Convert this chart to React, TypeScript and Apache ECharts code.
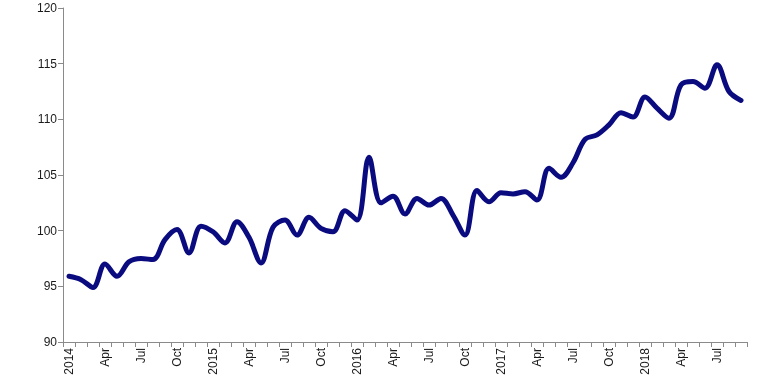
import React, { useEffect, useRef } from "react";
import * as echarts from "echarts";

const months: string[] = ["Jan", "Feb", "Mar", "Apr", "May", "Jun", "Jul", "Aug", "Sep", "Oct", "Nov", "Dec"];
const years: number[] = [2014, 2015, 2016, 2017, 2018];
const lastYearMonths = 9;

const categories: string[] = [];
years.forEach((y, yi) => {
  const n = yi === years.length - 1 ? lastYearMonths : 12;
  for (let m = 0; m < n; m++) categories.push(`${y}-${m}`);
});

const values: number[] = [
  95.9, 95.6, 94.9, 97.0, 95.9, 97.2, 97.5, 97.4, 99.2, 100.1, 98.0, 100.4,
  99.9, 98.9, 100.8, 99.4, 97.1, 100.3, 100.95, 99.6, 101.2, 100.2, 99.9, 101.8,
  100.95, 106.6, 102.5, 103.1, 101.5, 102.9, 102.3, 102.9, 101.4, 99.6, 103.6, 102.6,
  103.4, 103.3, 103.5, 102.75, 105.6, 104.8, 106.1, 108.2, 108.6, 109.5, 110.6, 110.2,
  112.0, 111.0, 110.1, 113.1, 113.4, 112.8, 114.9, 112.5, 111.7,
];

const yMin = 90;
const yMax = 120;
const yStep = 5;

export default function App() {
  const ref = useRef<HTMLDivElement>(null);
  useEffect(() => {
    if (!ref.current) return;
    const chart = echarts.init(ref.current, undefined, { renderer: "svg" });
    chart.setOption({
      animation: false,
      grid: { left: 63, right: 23, top: 8, bottom: 50, containLabel: false },
      xAxis: {
        type: "category",
        data: categories,
        boundaryGap: true,
        axisLine: { lineStyle: { color: "#8a8a8a", width: 1 } },
        axisTick: { show: true, interval: 0, length: 5, lineStyle: { color: "#8a8a8a" } },
        axisLabel: {
          interval: 2,
          rotate: 90,
          fontFamily: "Liberation Sans, Arial, sans-serif",
          fontSize: 12,
          color: "#1a1a1a",
          margin: 6,
          formatter: (v: string) => {
            const [y, m] = v.split("-");
            const mi = Number(m);
            return mi === 0 ? y : months[mi];
          },
        },
        splitLine: { show: false },
      },
      yAxis: {
        type: "value",
        min: yMin,
        max: yMax,
        interval: yStep,
        axisLine: { show: true, lineStyle: { color: "#8a8a8a", width: 1 } },
        axisTick: { show: true, length: 5, lineStyle: { color: "#8a8a8a" } },
        axisLabel: {
          fontFamily: "Liberation Sans, Arial, sans-serif",
          fontSize: 12,
          color: "#1a1a1a",
          margin: 6,
        },
        splitLine: { show: false },
      },
      series: [
        {
          type: "line",
          data: values,
          smooth: 0.35,
          showSymbol: false,
          lineStyle: { color: "#0b0b80", width: 5, cap: "round", join: "round" },
        },
      ],
    });
    return () => chart.dispose();
  }, []);
  return (
    <div
      ref={ref}
      style={{ position: "fixed", left: 0, top: 0, width: 770, height: 392 }}
    />
  );
}
